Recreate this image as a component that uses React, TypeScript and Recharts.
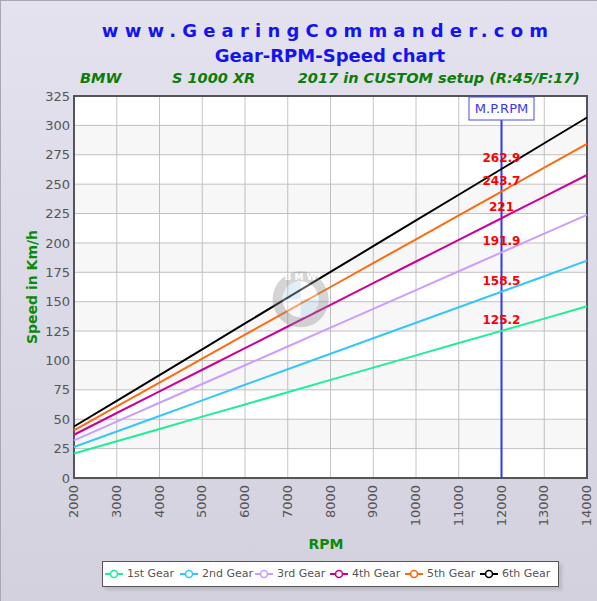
import React from "react";
import {
  LineChart,
  Line,
  XAxis,
  YAxis,
  CartesianGrid,
  ReferenceLine,
  ReferenceArea,
  ReferenceDot,
  LabelList,
} from "recharts";

const FONT = "'DejaVu Sans', Verdana, sans-serif";

const RPM = [2000, 3000, 4000, 5000, 6000, 7000, 8000, 9000, 10000, 11000, 12000, 13000, 14000];
const GEAR_1 = [20.9, 31.3, 41.7, 52.2, 62.6, 73.0, 83.5, 93.9, 104.3, 114.8, 125.2, 135.6, 146.1];
const GEAR_2 = [26.4, 39.6, 52.8, 66.0, 79.3, 92.5, 105.7, 118.9, 132.1, 145.3, 158.5, 171.7, 184.9];
const GEAR_3 = [32.0, 48.0, 64.0, 80.0, 95.9, 111.9, 127.9, 143.9, 159.9, 175.9, 191.9, 207.9, 223.9];
const GEAR_4 = [36.8, 55.3, 73.7, 92.1, 110.5, 128.9, 147.3, 165.8, 184.2, 202.6, 221.0, 239.4, 257.8];
const GEAR_5 = [40.6, 60.9, 81.2, 101.5, 121.9, 142.2, 162.5, 182.8, 203.1, 223.4, 243.7, 264.0, 284.3];
const GEAR_6 = [43.8, 65.7, 87.6, 109.5, 131.5, 153.4, 175.3, 197.2, 219.1, 241.0, 262.9, 284.8, 306.7];

const GEAR_NAMES = ["1st Gear", "2nd Gear", "3rd Gear", "4th Gear", "5th Gear", "6th Gear"];
const GEAR_COLORS = ["#1def98", "#35c6ff", "#cc9dff", "#cc0099", "#ff6a10", "#000000"];
const GEAR_VALUES = [GEAR_1, GEAR_2, GEAR_3, GEAR_4, GEAR_5, GEAR_6];

const Y_TICKS = [0, 25, 50, 75, 100, 125, 150, 175, 200, 225, 250, 275, 300, 325];
const BANDS = [[25, 50], [75, 100], [125, 150], [175, 200], [225, 250], [275, 300]];
const MP_RPM = 12000;

const data = RPM.map((rpm, i) => {
  const row: Record<string, number> = { rpm };
  GEAR_VALUES.forEach((vals, g) => {
    row["g" + (g + 1)] = vals[i];
  });
  return row;
});
const MP_INDEX = RPM.indexOf(MP_RPM);

function RpmTick(props: any) {
  const { x, y, payload } = props;
  const bx = x + 4;
  const by = y + 7;
  return (
    <text
      x={bx}
      y={by}
      transform={`rotate(-90 ${bx} ${by})`}
      textAnchor="end"
      fontSize={13}
      fill="#555"
      fontFamily={FONT}
    >
      {payload.value}
    </text>
  );
}

function MpLabel(props: any) {
  const { viewBox } = props;
  const cx = viewBox.x;
  const top = viewBox.y + 1;
  return (
    <g>
      <rect x={cx - 32.5} y={top} width={65} height={23} fill="#fdfdff" stroke="#4a4af0" strokeWidth={1} />
      <text x={cx} y={top + 16} textAnchor="middle" fontSize={13} fill="#3a3ae8" fontFamily={FONT}>
        M.P.RPM
      </text>
    </g>
  );
}

function SpeedLabel(props: any) {
  const { x, y, value, index } = props;
  if (index !== MP_INDEX) return null;
  return (
    <text x={x} y={y - 7} textAnchor="middle" fontSize={12} fontWeight="bold" fill="#ff0000" fontFamily={FONT}>
      {value}
    </text>
  );
}

function Watermark(props: any) {
  const { cx, cy } = props;
  const r = 18;
  return (
    <g opacity={0.35}>
      <circle cx={cx} cy={cy} r={28} fill="#8a8a8a" />
      <circle cx={cx} cy={cy} r={r} fill="#ffffff" />
      <path d={`M${cx} ${cy} L${cx} ${cy - r} A${r} ${r} 0 0 0 ${cx - r} ${cy} Z`} fill="#a9cfe8" />
      <path d={`M${cx} ${cy} L${cx} ${cy + r} A${r} ${r} 0 0 0 ${cx + r} ${cy} Z`} fill="#a9cfe8" />
      <text x={cx} y={cy - 19} textAnchor="middle" fontSize={9} fontWeight="bold" fill="#fff" fontFamily={FONT}>
        B M W
      </text>
    </g>
  );
}

function LegendBox() {
  return (
    <div
      style={{
        position: "absolute",
        left: 102,
        top: 561,
        width: 457,
        height: 26,
        boxSizing: "border-box",
        background: "#fff",
        border: "1px solid #555",
        boxShadow: "3px 3px 3px rgba(0,0,0,0.12)",
        fontFamily: FONT,
        fontSize: 11,
        color: "#555",
      }}
    >
      {GEAR_NAMES.map((name, i) => (
        <div
          key={name}
          style={{ position: "absolute", left: 2 + i * 75, top: 5, display: "flex", alignItems: "center", whiteSpace: "nowrap" }}
        >
          <svg width={18} height={12} style={{ marginRight: 4 }}>
            <line x1={0} y1={6} x2={18} y2={6} stroke={GEAR_COLORS[i]} strokeWidth={2} />
            <circle cx={9} cy={6} r={3.5} fill="#fff" stroke={GEAR_COLORS[i]} strokeWidth={1.6} />
          </svg>
          <span>{name}</span>
        </div>
      ))}
    </div>
  );
}

export default function App() {
  return (
    <div
      style={{
        position: "absolute",
        left: 0,
        top: 0,
        width: 597,
        height: 601,
        background: "linear-gradient(#e4e2ee, #d3d1dd)",
        boxShadow: "inset 1px 1px 0 #a8a8b0",
        overflow: "hidden",
      }}
    >
      <LineChart width={597} height={601} data={data} margin={{ top: 96, right: 10, bottom: 83, left: 0 }}>
        <CartesianGrid fill="#ffffff" stroke="#c4c4c4" strokeWidth={1} />
        {BANDS.map(([a, b]) => (
          <ReferenceArea key={a} y1={a} y2={b} x1={2000} x2={14000} fill="#000" fillOpacity={0.03} stroke="none" />
        ))}
        <ReferenceDot x={7300} y={152} r={0} shape={Watermark} />
        <XAxis
          dataKey="rpm"
          type="number"
          domain={[2000, 14000]}
          ticks={RPM}
          axisLine={false}
          tickLine={false}
          tickSize={0}
          tickMargin={0}
          height={40}
          tick={RpmTick}
          interval={0}
        />
        <YAxis
          type="number"
          domain={[0, 325]}
          ticks={Y_TICKS}
          axisLine={false}
          tickLine={false}
          tickSize={0}
          tickMargin={4}
          width={74}
          interval={0}
          tick={{ fontSize: 13, fill: "#555", fontFamily: FONT }}
        />
        <ReferenceLine x={MP_RPM} stroke="#3535ee" strokeWidth={2} label={<MpLabel />} />
        {GEAR_NAMES.map((name, g) => (
          <Line
            key={name}
            dataKey={"g" + (g + 1)}
            name={name}
            type="linear"
            stroke={GEAR_COLORS[g]}
            strokeWidth={2}
            dot={false}
            activeDot={false}
            isAnimationActive={false}
          >
            <LabelList dataKey={"g" + (g + 1)} content={SpeedLabel} />
          </Line>
        ))}
        <ReferenceArea x1={2000} x2={14000} y1={0} y2={325} fill="none" stroke="#555" strokeWidth={2} />
      </LineChart>

      <svg width={597} height={601} style={{ position: "absolute", left: 0, top: 0, pointerEvents: "none" }}>
        <text x={328} y={37} textAnchor="middle" fontSize={18} fontWeight="bold" fill="#1414f0" fontFamily={FONT} letterSpacing={6.2}>
          www.GearingCommander.com
        </text>
        <text x={330} y={62} textAnchor="middle" fontSize={18} fontWeight="bold" fill="#1414f0" fontFamily={FONT}>
          Gear-RPM-Speed chart
        </text>
        <g fontSize={14.5} fontWeight="bold" fontStyle="italic" fill="#0a7d0a" fontFamily={FONT}>
          <text x={80} y={83}>BMW</text>
          <text x={172} y={83}>S 1000 XR</text>
          <text x={580} y={83} textAnchor="end">2017 in CUSTOM setup (R:45/F:17)</text>
        </g>
        <text
          x={37}
          y={287}
          transform="rotate(-90 37 287)"
          textAnchor="middle"
          fontSize={14}
          fontWeight="bold"
          fill="#0a8a0a"
          fontFamily={FONT}
        >
          Speed in Km/h
        </text>
        <text x={326} y={549} textAnchor="middle" fontSize={14} fontWeight="bold" fill="#0a8a0a" fontFamily={FONT}>
          RPM
        </text>
      </svg>

      <LegendBox />
    </div>
  );
}
